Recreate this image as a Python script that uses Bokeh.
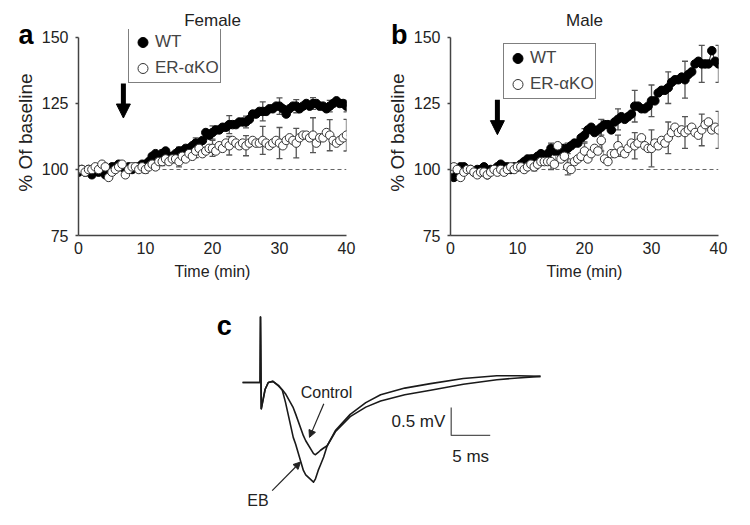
import numpy as np
from bokeh.plotting import figure
from bokeh.models import (Range1d, Label, Legend, LegendItem, Whisker, TeeHead, Title,
                          Arrow, NormalHead, Span, ColumnDataSource, LinearAxis, FixedTicker)
from bokeh.layouts import column, row
from bokeh.embed import file_html
from bokeh.resources import INLINE

FONT = "Liberation Sans"

# ---------------- data ----------------
time_min = np.arange(0, 40.5, 0.5)  # sampling every 30 s

female_wt = [99, 100, 99, 100, 98, 100, 99, 100, 98, 99, 101, 101, 102, 101, 100, 101, 100, 101, 101, 102,
             102, 103, 105, 106, 105, 106, 107, 105, 105, 106, 107, 107, 108, 108, 109, 110, 110, 111, 114, 113,
             114, 115, 115, 116, 116, 117, 117, 117, 118, 118, 118, 119, 121, 121, 122, 122, 122, 123, 123, 124,
             124, 123, 121, 123, 124, 124, 123, 124, 125, 124, 125, 125, 124, 124, 123, 124, 125, 126, 125, 125, 124]
female_ko = [100, 100, 99, 100, 100, 101, 100, 102, 101, 97, 99, 100, 101, 102, 98, 100, 101, 101, 100, 101,
             100, 101, 102, 101, 103, 103, 104, 103, 104, 104, 103, 105, 104, 106, 105, 107, 108, 106, 107, 108,
             108, 107, 109, 108, 110, 109, 111, 110, 109, 110, 109, 110, 111, 110, 110, 111, 110, 109, 110, 111,
             110, 109, 111, 112, 111, 110, 112, 113, 113, 112, 113, 110, 112, 112, 114, 113, 111, 110, 111, 112, 113]
male_wt = [98, 97, 99, 101, 101, 100, 100, 99, 100, 100, 101, 98, 100, 100, 101, 102, 101, 101, 100, 101,
           101, 102, 103, 104, 104, 104, 105, 106, 105, 106, 108, 107, 107, 108, 108, 108, 109, 110, 110, 112,
           113, 115, 116, 114, 115, 116, 117, 117, 115, 118, 119, 120, 119, 120, 121, 124, 124, 123, 123, 124,
           126, 126, 129, 130, 130, 131, 133, 134, 134, 135, 134, 136, 137, 140, 141, 140, 140, 140, 145, 141, 140]
male_ko = [100, 101, 100, 97, 99, 100, 100, 99, 98, 99, 99, 98, 99, 100, 99, 100, 99, 100, 101, 100,
           101, 101, 100, 101, 102, 101, 102, 103, 103, 103, 103, 102, 109, 104, 105, 101, 100, 103, 104, 105,
           107, 104, 106, 108, 107, 111, 104, 103, 106, 106, 109, 107, 106, 108, 110, 109, 110, 112, 109, 108,
           108, 110, 109, 111, 110, 112, 114, 116, 114, 115, 114, 115, 116, 114, 113, 115, 117, 118, 115, 116, 115]

err_times = [10, 12.5, 15, 17.5, 20, 22.5, 25, 27.5, 30, 32.5, 35, 37.5, 40]
female_wt_sem = [1.0, 1.5, 1.5, 2.0, 2.5, 3.4, 2.2, 3.6, 3.1, 2.5, 2.2, 2.2, 2.2]
female_ko_sem = [1.5, 1.5, 2.0, 2.5, 3.0, 3.5, 3.8, 5.3, 5.9, 5.6, 6.6, 5.9, 6.0]
male_wt_sem = [1.0, 1.5, 2.0, 2.0, 2.5, 3.0, 4.0, 6.0, 6.0, 6.0, 7.0, 7.0, 7.0]
male_ko_sem = [1.0, 1.5, 3.0, 3.0, 3.0, 4.0, 4.0, 5.0, 7.0, 6.0, 6.0, 6.0, 7.0]

y_ticks = [75, 100, 125, 150]
x_ticks = [0, 10, 20, 30, 40]
baseline_pct = 100

# drug application arrows (time, top value, tip value)
female_arrow = (6.7, 132.6, 119.5)
male_arrow = (7.0, 126.4, 113.2)

# panel c field potential traces
trace_ms = [-2.3, -0.05, 0.0, 0.1, 0.6, 1.0, 1.6, 2.3, 2.8, 3.2, 4.2, 4.5, 5.5, 5.8, 6.8, 7.05, 7.4,
            7.7, 8.1, 8.55, 9.6, 11.5, 13.5, 15.4, 18.5, 21.8, 26.0, 30.3, 33.0, 35.9]
control_mv = [0, 0, 1.17, -0.47, -0.12, 0.0, 0.02, -0.06, -0.13, -0.2, -0.45, -0.56, -0.95, -1.04, -1.27,
              -1.29, -1.25, -1.21, -1.17, -1.13, -0.88, -0.61, -0.44, -0.33, -0.22, -0.14, -0.03, 0.05, 0.08, 0.11]
eb_mv = [0, 0, 1.17, -0.47, -0.12, 0.0, 0.02, -0.05, -0.14, -0.35, -0.98, -1.1, -1.57, -1.65, -1.78,
         -1.72, -1.57, -1.47, -1.33, -1.13, -0.86, -0.57, -0.36, -0.22, -0.1, -0.02, 0.07, 0.12, 0.12, 0.11]
scale_mv = 0.5
scale_ms = 5


def timecourse(title, letter, wt, ko, wt_sem, ko_sem, width, left, legend_xy, arrow, letter_shift):
    p = figure(width=width, height=290, x_range=Range1d(0, 40), y_range=Range1d(75, 153.03),
               output_backend="svg", toolbar_location=None,
               min_border_left=left, min_border_right=width - left - 268,
               min_border_top=29, min_border_bottom=55)
    p.outline_line_color = None
    p.grid.visible = False
    p.background_fill_color = "white"

    for ax in (p.xaxis[0], p.yaxis[0]):
        ax.axis_line_color = "#444"
        ax.axis_line_width = 1.5
        ax.major_tick_line_color = "#444"
        ax.major_tick_line_width = 1.5
        ax.minor_tick_line_color = None
        ax.major_tick_in = 0
        ax.major_label_text_font = FONT
        ax.major_label_text_font_size = "16px"
        ax.major_label_text_color = "#222"
        ax.axis_label_text_font = FONT
        ax.axis_label_text_font_style = "normal"
        ax.axis_label_text_color = "#222"
    p.xaxis.axis_label_text_font_size = "16px"
    p.yaxis.axis_label_text_font_size = "19px"
    p.xaxis.ticker = x_ticks
    p.yaxis.ticker = y_ticks
    p.yaxis.bounds = (75, 150)
    p.xaxis.major_tick_out = 0
    p.yaxis.major_tick_out = 3
    p.xaxis.major_label_standoff = 6
    p.yaxis.major_label_standoff = 7
    p.xaxis.axis_label = "Time (min)"
    p.yaxis.axis_label = "% Of baseline"
    p.xaxis.axis_label_standoff = 6
    p.yaxis.axis_label_standoff = 3

    # panel letter, shown as the single label of an extra bare axis on the left
    letter_axis = LinearAxis(ticker=FixedTicker(ticks=[151]), major_label_overrides={151: letter},
                             axis_line_color=None, major_tick_line_color=None, minor_tick_line_color=None,
                             major_tick_out=0, major_tick_in=0, major_label_standoff=letter_shift,
                             major_label_text_font=FONT, major_label_text_font_size="27px",
                             major_label_text_font_style="bold", major_label_text_color="black")
    p.add_layout(letter_axis, "left")

    p.add_layout(Title(text=title, align="center", text_font=FONT, text_font_size="17px",
                       text_font_style="normal", text_color="#222", standoff=0), "above")

    p.add_layout(Span(location=baseline_pct, dimension="width", line_dash="4 3",
                      line_color="#666", line_width=1, level="underlay"))

    idx = [int(round(t * 2)) for t in err_times]
    for vals, sem in ((wt, wt_sem), (ko, ko_sem)):
        src = ColumnDataSource(dict(t=err_times,
                                    up=[vals[i] + s for i, s in zip(idx, sem)],
                                    lo=[vals[i] - s for i, s in zip(idx, sem)]))
        p.add_layout(Whisker(source=src, base="t", upper="up", lower="lo",
                             line_color="#555", line_width=1.3,
                             upper_head=TeeHead(size=6, line_color="#555", line_width=1.3),
                             lower_head=TeeHead(size=6, line_color="#555", line_width=1.3)))

    p.line(time_min, wt, line_color="#222", line_width=1)
    p.line(time_min, ko, line_color="#777", line_width=0.8)
    r_wt = p.scatter(time_min, wt, size=8.5, marker="circle", fill_color="black", line_color="black")
    r_ko = p.scatter(time_min, ko, size=8.5, marker="circle", fill_color="white",
                     line_color="#333", line_width=1)

    legend = Legend(items=[LegendItem(label="WT", renderers=[r_wt]),
                           LegendItem(label="ER-αKO", renderers=[r_ko])],
                    location=legend_xy, orientation="vertical",
                    border_line_color="black", border_line_width=1.5,
                    padding=1, spacing=0, margin=0,
                    glyph_width=25, glyph_height=26, label_height=20, label_standoff=0,
                    label_text_font=FONT, label_text_font_size="17px",
                    background_fill_color="white", background_fill_alpha=1)
    p.add_layout(legend)

    at, atop, atip = arrow
    base = atip + 4.8
    p.add_layout(Arrow(end=None, x_start=at, y_start=atop, x_end=at, y_end=base,
                       line_width=5, line_color="black"))
    p.add_layout(Arrow(end=NormalHead(size=14, fill_color="black", line_color="black", line_width=1),
                       x_start=at, y_start=base, x_end=at, y_end=atip, line_alpha=0))
    return p


pa = timecourse("Female", "a", female_wt, female_ko, female_wt_sem, female_ko_sem,
                370, 78, (50, 152), female_arrow, -22)
pb = timecourse("Male", "b", male_wt, male_ko, male_wt_sem, male_ko_sem,
                380, 80, (53, 136), male_arrow, -24)

# ---------------- panel c ----------------
pc = figure(width=750, height=235, x_range=Range1d(-33.33, 62.82), y_range=Range1d(-2.554, 1.643),
            x_axis_type=None, y_axis_type=None, output_backend="svg", toolbar_location=None,
            min_border=0)
pc.outline_line_color = None
pc.background_fill_color = "white"

pc.line(trace_ms, control_mv, line_color="#1a1a1a", line_width=1.6, line_join="round")
pc.line(trace_ms, eb_mv, line_color="#1a1a1a", line_width=1.6, line_join="round")

sb_t, sb_v = 24.45, -0.946
pc.line([sb_t, sb_t, sb_t + scale_ms], [sb_v + scale_mv, sb_v, sb_v], line_color="#555", line_width=1.3)
pc.add_layout(Label(x=sb_t - 0.75, y=sb_v + scale_mv / 2, text="0.5 mV", text_align="right",
                    text_baseline="middle", text_font=FONT, text_font_size="17px", text_color="#222"))
pc.add_layout(Label(x=sb_t + scale_ms / 2, y=-1.33, text="5 ms", text_align="center",
                    text_baseline="middle", text_font=FONT, text_font_size="17px", text_color="#222"))

pc.add_layout(Label(x=8.46, y=-0.17, text="Control", text_align="center", text_baseline="middle",
                    text_font=FONT, text_font_size="16px", text_color="#222"))
pc.add_layout(Arrow(end=NormalHead(size=7, fill_color="#222", line_color="#222", line_width=1),
                    x_start=8.12, y_start=-0.38, x_end=6.28, y_end=-0.98,
                    line_width=1.2, line_color="#222"))
pc.add_layout(Label(x=-0.32, y=-2.1, text="EB", text_align="center", text_baseline="middle",
                    text_font=FONT, text_font_size="16px", text_color="#222"))
pc.add_layout(Arrow(end=NormalHead(size=7, fill_color="#222", line_color="#222", line_width=1),
                    x_start=1.5, y_start=-1.93, x_end=5.13, y_end=-1.42,
                    line_width=1.2, line_color="#222"))
pc.add_layout(Label(x=-5.6, y=1.01, text="c", text_align="left", text_baseline="middle",
                    text_font=FONT, text_font_size="27px", text_font_style="bold", text_color="black"))

layout = column(row(pa, pb), pc)
open("out.html", "w").write(file_html(layout, INLINE))
